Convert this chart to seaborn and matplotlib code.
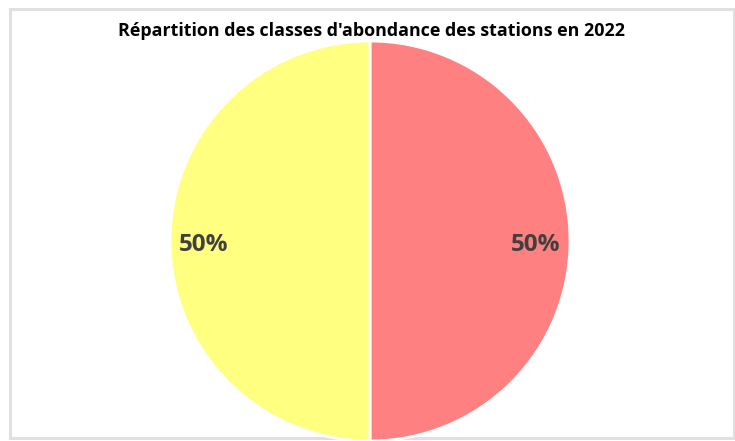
import matplotlib
matplotlib.use("Agg")
import matplotlib.pyplot as plt
from matplotlib.patches import Rectangle
import seaborn as sns

# abundance classes and their share of stations
classes = ["Classe forte", "Classe faible"]
stations = [50, 50]
class_colors = ["#FF8080", "#FFFF80"]

sns.set_theme(style="white")
plt.rcParams["font.family"] = ["Open Sans", "DejaVu Sans"]

fig = plt.figure(figsize=(7.35, 4.41), dpi=100)

# grey frame around the chart area
frame = Rectangle((9.5 / 735, 3.5 / 441), 724 / 735, 429 / 441,
                  transform=fig.transFigure, fill=False,
                  edgecolor="#E0E0E0", linewidth=2.2, zorder=-1)
fig.patches.append(frame)

ax = fig.add_axes([170 / 735, 0 / 441, 400 / 735, 400 / 441])
wedges, texts, autotexts = ax.pie(
    stations, labels=None, colors=sns.color_palette(class_colors),
    startangle=90, counterclock=False, autopct="%1.0f%%",
    pctdistance=0.83,
    wedgeprops=dict(edgecolor="white", linewidth=2),
    textprops=dict(color="#404040", fontsize=17.5, fontweight="bold"))
for t in autotexts:
    x, y = t.get_position()
    t.set_position((x, y - 0.02))
ax.set_xlim(-1, 1)
ax.set_ylim(-1, 1)
ax.set_aspect("equal")
ax.axis("off")

fig.text(371 / 735, 1 - 31 / 441,
         "Répartition des classes d'abondance des stations en 2022",
         ha="center", va="center", fontsize=12.9, fontweight="bold",
         color="black")

plt.savefig("out.png", dpi=100)
